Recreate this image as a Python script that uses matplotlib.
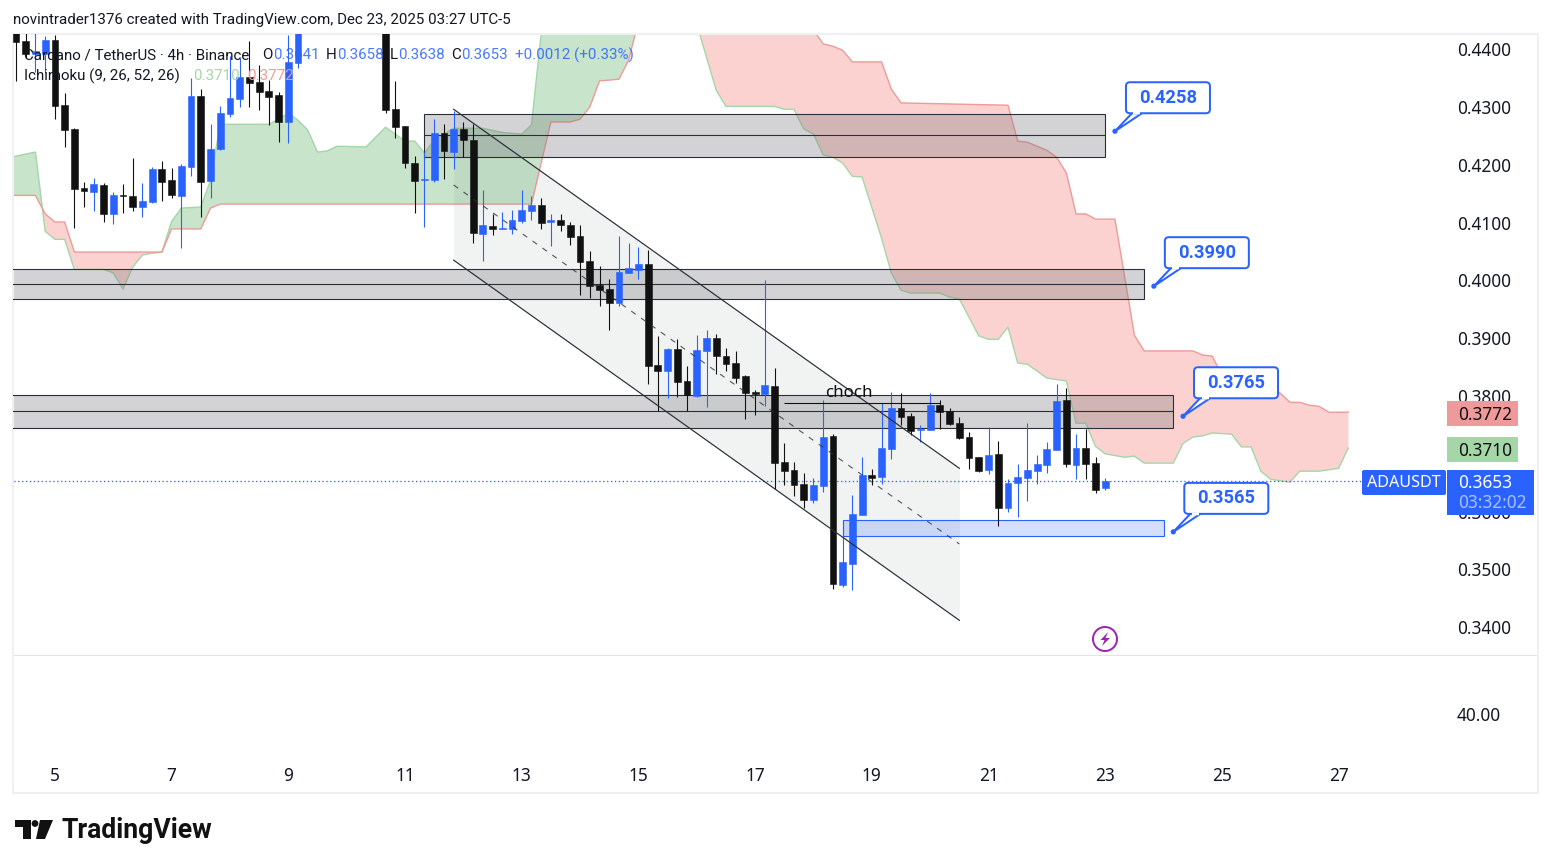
import numpy as np
import matplotlib
matplotlib.use("Agg")
from matplotlib import pyplot as plt
from matplotlib.patches import Rectangle, FancyBboxPatch, Circle, Polygon

plt.rcParams["font.family"] = ["Noto Sans", "DejaVu Sans"]

W, H = 1551, 868
TICK = 1e-4  # ADAUSDT price step, the lists below are in ticks
nan = np.nan

# 4h candles, one per bar. Bars 30-37 are above the visible range
opens = [4433, 4414, 4391, 4391, 4416, 4303, 4262, 4160, 4153, 4165, 4115, 4147, 4146, 4127, 4135,
         4192, 4173, 4146, 4196, 4319, 4172, 4227, 4288, 4314, 4352, 4343, 4327, 4320, 4274, 4376,
         nan, nan, nan, nan, nan, nan, nan, nan,
         4436, 4296, 4267, 4203, 4173, 4173, 4255, 4222, 4262, 4243, 4080, 4094, 4089, 4089, 4102,
         4120, 4130, 4101, 4104, 4096, 4077, 4033, 3992, 3985, 3961, 4013, 4018, 4028, 3853, 3843,
         3881, 3826, 3800, 3878, 3900, 3869, 3857, 3834, 3807, 3803, 3817, 3686, 3672, 3647, 3620,
         3644, 3731, 3473, 3509, 3594, 3663, 3660, 3708, 3779, 3765, 3741, 3741, 3784, 3774, 3753,
         3729, 3694, 3672, 3699, 3606, 3649, 3658, 3670, 3680, 3706, 3793, 3680, 3710, 3684, 3641]
closes = [4412, 4391, 4397, 4416, 4301, 4260, 4158, 4154, 4167, 4115, 4147, 4146, 4127, 4137, 4192,
          4170, 4147, 4198, 4319, 4170, 4227, 4289, 4315, 4352, 4341, 4326, 4317, 4274, 4378, 4433,
          nan, nan, nan, nan, nan, nan, nan, nan,
          4295, 4265, 4203, 4172, 4175, 4255, 4224, 4262, 4243, 4082, 4095, 4089, 4090, 4104, 4122,
          4130, 4099, 4104, 4096, 4075, 4032, 3990, 3983, 3961, 4014, 4021, 4028, 3852, 3843, 3881,
          3824, 3801, 3879, 3900, 3869, 3855, 3831, 3805, 3803, 3819, 3684, 3670, 3646, 3620, 3646,
          3729, 3475, 3513, 3596, 3663, 3658, 3710, 3779, 3763, 3739, 3743, 3784, 3772, 3751, 3727,
          3692, 3670, 3698, 3606, 3649, 3660, 3672, 3682, 3708, 3791, 3682, 3710, 3682, 3637, 3653]
highs = [4450, 4433, 4433, 4423, 4424, 4324, 4263, 4170, 4177, 4168, 4153, 4167, 4211, 4168, 4196,
         4206, 4194, 4201, 4350, 4331, 4270, 4301, 4388, 4384, 4414, 4372, 4346, 4326, 4424, 4442,
         nan, nan, nan, nan, nan, nan, nan, nan,
         4442, 4345, 4267, 4215, 4222, 4279, 4270, 4293, 4274, 4270, 4156, 4115, 4118, 4122, 4156,
         4146, 4142, 4115, 4115, 4101, 4096, 4051, 4025, 4002, 4077, 4064, 4057, 4052, 3904, 3883,
         3898, 3852, 3905, 3914, 3907, 3883, 3878, 3836, 3810, 4000, 3848, 3718, 3686, 3667, 3658,
         3793, 3734, 3585, 3628, 3694, 3673, 3788, 3807, 3805, 3770, 3750, 3805, 3793, 3779, 3763,
         3737, 3694, 3746, 3722, 3656, 3682, 3753, 3698, 3720, 3820, 3814, 3734, 3743, 3694, 3658]
lows = [4345, 4384, 4360, 4359, 4279, 4231, 4090, 4127, 4120, 4101, 4097, 4116, 4120, 4109, 4134,
        4137, 4142, 4056, 4180, 4109, 4142, 4225, 4282, 4300, 4300, 4295, 4269, 4239, 4237, 4367,
        nan, nan, nan, nan, nan, nan, nan, nan,
        4289, 4246, 4194, 4116, 4092, 4170, 4175, 4192, 4213, 4064, 4033, 4078, 4089, 4080, 4099,
        4104, 4089, 4059, 4085, 4061, 3974, 3969, 3955, 3914, 3955, 4013, 4002, 3821, 3774, 3796,
        3798, 3774, 3798, 3781, 3838, 3843, 3822, 3760, 3767, 3782, 3639, 3646, 3627, 3606, 3615,
        3634, 3466, 3469, 3464, 3594, 3646, 3648, 3691, 3750, 3732, 3720, 3741, 3743, 3750, 3725,
        3673, 3668, 3665, 3575, 3599, 3590, 3618, 3648, 3667, 3706, 3677, 3656, 3656, 3632, 3638]

# Ichimoku spans, vertices by bar number (above the pane they are rough guesses)
span_a_bars = [-1, 0, 2, 3, 4, 5, 6, 9, 10, 11, 12, 13, 14, 15, 16, 17, 19, 20, 21, 26, 27, 28, 29, 30,
               31, 32, 33, 36, 38, 39, 40, 41, 42, 43, 45, 48, 50, 52, 53, 54, 55, 62, 70, 72, 73, 78,
               79, 80, 81, 82, 83, 84, 85, 86, 87, 89, 90, 91, 92, 95, 96, 97, 98, 99, 100, 101, 102,
               103, 104, 106, 108, 109, 110, 111, 112, 114, 115, 116, 119, 120, 121, 122, 123, 125,
               126, 127, 128, 129, 131, 132, 134, 136, 137]
span_a = [4211, 4215, 4222, 4085, 4071, 4071, 4019, 4019, 4013, 3985, 4023, 4044, 4047, 4049, 4102,
          4125, 4127, 4173, 4270, 4270, 4279, 4289, 4277, 4260, 4222, 4224, 4232, 4231, 4265, 4253,
          4241, 4241, 4220, 4243, 4263, 4263, 4256, 4253, 4269, 4426, 4470, 4520, 4443, 4329, 4301,
          4301, 4296, 4296, 4262, 4253, 4217, 4213, 4203, 4180, 4179, 4073, 4013, 3983, 3978, 3978,
          3971, 3968, 3936, 3904, 3898, 3898, 3919, 3857, 3855, 3831, 3826, 3753, 3753, 3713, 3700,
          3694, 3696, 3684, 3684, 3718, 3729, 3731, 3736, 3734, 3712, 3712, 3670, 3656, 3651, 3670,
          3670, 3675, 3710]
span_b_bars = [-1, 2, 3, 4, 5, 6, 15, 16, 19, 20, 21, 53, 54, 55, 57, 58, 59, 60, 62, 63, 64, 66, 80,
               82, 83, 84, 85, 86, 89, 90, 91, 102, 103, 104, 106, 107, 108, 109, 110, 111, 113, 114,
               115, 116, 121, 122, 123, 124, 127, 130, 131, 132, 133, 134, 135, 137]
span_b = [4147, 4147, 4115, 4101, 4101, 4049, 4049, 4089, 4089, 4125, 4132, 4132, 4203, 4274, 4274,
          4279, 4300, 4345, 4348, 4381, 4448, 4520, 4500, 4433, 4409, 4405, 4398, 4378, 4378, 4331,
          4307, 4303, 4241, 4239, 4225, 4213, 4186, 4115, 4115, 4106, 4106, 4006, 3905, 3878, 3878,
          3871, 3869, 3836, 3827, 3805, 3789, 3789, 3784, 3782, 3772, 3772]

# zones: top, middle, bottom price and bar range
zone_tops = [4288, 4019, 3801]
zone_mids = [4251, 3993, 3774]
zone_bottoms = [4213, 3968, 3744]
zone_starts = [42, -2, -2]
zone_ends = [112, 116, 119]

# falling channel
channel_bars = [45, 97]
channel_upper = [4296, 3675]
channel_mid = [4165, 3544]
channel_lower = [4035, 3412]

target_zone = (85, 118, 3558, 3585)
choch_bars = [79, 95]
choch_price = 3788

callout_bars = [113, 117, 120, 119]
callout_prices = [4258, 3990, 3765, 3565]

price_ticks = [0.34, 0.35, 0.36, 0.37, 0.38, 0.39, 0.40, 0.41, 0.42, 0.43, 0.44]
day_bars = [4, 16, 28, 40, 52, 64, 76, 88, 100, 112, 124, 136]
day_labels = ["5", "7", "9", "11", "13", "15", "17", "19", "21", "23", "25", "27"]

BLUE = "#2962ff"
DARK = "#111111"
TEXT = "#131722"
RED_LINE, RED_FILL = "#ef9a9a", "#fcd2d0"
GREEN_LINE, GREEN_FILL = "#a5d6a7", "#c8e4ca"
LINE = "#2a2e39"
BORDER = "#f0f0f3"
PX = 0.72  # one pixel in points at dpi 100
UI_FONT = ["Roboto", "DejaVu Sans"]

fig = plt.figure(figsize=(W / 100, H / 100), dpi=100, facecolor="white")


def pane(top, bottom):
    return fig.add_axes([13 / W, 1 - bottom / H, (1538 - 13) / W, (bottom - top) / H])


ax = pane(34, 656)
ax2 = pane(656, 793)
ax.set_xlim(-0.31, 156.5)
ax.set_ylim(0.33503, 0.44262)
ax2.set_xlim(ax.get_xlim())
ax2.set_ylim(0, 69.3)

# cloud
a_x, a_y = np.array(span_a_bars, float), np.array(span_a) * TICK
b_x, b_y = np.array(span_b_bars, float), np.array(span_b) * TICK
grid = np.union1d(a_x, b_x)
a_on_grid = np.interp(grid, a_x, a_y)
b_on_grid = np.interp(grid, b_x, b_y)
ax.fill_between(grid, a_on_grid, b_on_grid, where=a_on_grid >= b_on_grid, interpolate=True,
                color=GREEN_FILL, lw=0, zorder=1)
ax.fill_between(grid, a_on_grid, b_on_grid, where=a_on_grid <= b_on_grid, interpolate=True,
                color=RED_FILL, lw=0, zorder=1)
ax.plot(a_x, a_y, color=GREEN_LINE, lw=1.4 * PX, zorder=1.5)
ax.plot(b_x, b_y, color=RED_LINE, lw=1.4 * PX, zorder=1.5)

# channel
ch_up = np.array(channel_upper) * TICK
ch_mid = np.array(channel_mid) * TICK
ch_low = np.array(channel_lower) * TICK
ax.fill_between(channel_bars, ch_up, ch_low, color="#6f8a7c", alpha=0.1, lw=0, zorder=2)

# zones
for top, mid, bot, start, end in zip(zone_tops, zone_mids, zone_bottoms, zone_starts, zone_ends):
    ax.add_patch(Rectangle((start, bot * TICK), end - start, (top - bot) * TICK,
                           facecolor="#78787e", alpha=0.32, lw=0, zorder=2.5))
    ax.add_patch(Rectangle((start, bot * TICK), end - start, (top - bot) * TICK,
                           fill=False, edgecolor=LINE, lw=1.1 * PX, zorder=2.6))
    ax.hlines(mid * TICK, start, end, color=LINE, lw=1.1 * PX, zorder=2.6)

t_start, t_end, t_low, t_high = target_zone
ax.add_patch(Rectangle((t_start, t_low * TICK), t_end - t_start, (t_high - t_low) * TICK,
                       facecolor=BLUE, alpha=0.2, lw=0, zorder=2.5))
ax.add_patch(Rectangle((t_start, t_low * TICK), t_end - t_start, (t_high - t_low) * TICK,
                       fill=False, edgecolor=BLUE, lw=1.1 * PX, zorder=2.6))

# candles
o, h, l, c = [np.array(v, float) * TICK for v in (opens, highs, lows, closes)]
bars = np.arange(len(o))
colors = [BLUE if up else DARK for up in c >= o]
ax.vlines(bars, l, h, colors=colors, lw=1.1 * PX, zorder=4)
ax.bar(bars, np.abs(c - o), bottom=np.minimum(o, c), width=0.7, color=colors,
       edgecolor=colors, lw=0.4, zorder=4.5)

ax.plot(channel_bars, ch_up, color=LINE, lw=1.2 * PX, zorder=5)
ax.plot(channel_bars, ch_low, color=LINE, lw=1.2 * PX, zorder=5)
ax.plot(channel_bars, ch_mid, color=LINE, lw=1.1 * PX, ls=(0, (5, 6)), alpha=0.8, zorder=5)
ax.hlines(choch_price * TICK, choch_bars[0], choch_bars[1], color=DARK, lw=1.1 * PX, zorder=5)
ax.hlines(c[-1], -1, 138.4, color=BLUE, lw=1.3 * PX, ls=(0, (1, 2)), zorder=3)

# scales
for a in (ax, ax2):
    a.yaxis.tick_right()
    a.tick_params(axis="both", length=0)
    for name in a.spines:
        a.spines[name].set_color(BORDER)
        a.spines[name].set_linewidth(1.5)
ax.set_yticks(price_ticks)
ax.set_yticklabels([f"{p:.4f}" for p in price_ticks])
ax.tick_params(axis="y", pad=-58.5, labelsize=12.4, labelcolor=TEXT)
ax.set_xticks([])
ax.spines["bottom"].set_color("#dcdfea")
ax.spines["bottom"].set_linewidth(1.2)
ax2.spines["top"].set_visible(False)
ax2.set_yticks([40])
ax2.set_yticklabels(["40.00"])
ax2.tick_params(axis="y", pad=-58.5, labelsize=12.4, labelcolor=TEXT)
ax2.set_xticks(day_bars)
ax2.set_xticklabels(day_labels)
ax2.tick_params(axis="x", pad=-19, labelsize=12.4, labelcolor=TEXT)

# pixel overlay for texts, price tags and callouts
ov = fig.add_axes([0, 0, 1, 1], zorder=10)
ov.set_xlim(0, W)
ov.set_ylim(H, 0)
ov.axis("off")


def label(x, y, s, color=TEXT, size=10.9, ha="left", weight="normal", alpha=1, family=UI_FONT):
    ov.text(x, y + 1, s, color=color, fontsize=size, ha=ha, va="center", fontweight=weight,
            alpha=alpha, family=family)


def tag(x0, y0, x1, y1, color):
    ov.add_patch(Rectangle((x0, y0), x1 - x0, y1 - y0, facecolor=color, lw=0))


NUM_FONT = ["Noto Sans", "DejaVu Sans"]

label(13, 19, "novintrader1376 created with TradingView.com, Dec 23, 2025 03:27 UTC-5")

label(24, 54, "Cardano / TetherUS · 4h · Binance")
for x, vx, name, value in zip([262, 326, 390, 451], [273, 337, 398, 461], "OHLC", [o[-1], h[-1], l[-1], c[-1]]):
    label(x, 54, name)
    label(vx, 54, f"{value:.4f}", color=BLUE, alpha=0.85)
change = c[-1] - o[-1]
label(515, 54, f"+{change:.4f} (+{change / o[-1] * 100:.2f}%)", color=BLUE, alpha=0.85)
label(24, 75, "Ichimoku (9, 26, 52, 26)")
label(193, 75, f"{span_a[-1] * TICK:.4f}", color=GREEN_LINE)
label(247, 75, f"{span_b[-1] * TICK:.4f}", color=RED_LINE)

label(849, 392, "choch", size=12.2, ha="center", color=DARK, family=NUM_FONT)

# price tags
tag(1447, 401, 1518, 426, RED_LINE)
label(1458, 413.5, f"{span_b[-1] * TICK:.4f}", size=12.4, color=DARK, family=NUM_FONT)
tag(1447, 437, 1518, 462, GREEN_LINE)
label(1458, 449.5, f"{span_a[-1] * TICK:.4f}", size=12.4, color=DARK, family=NUM_FONT)
ov.add_patch(FancyBboxPatch((1362, 470), 84, 25, boxstyle="round,pad=0,rounding_size=2",
                            facecolor=BLUE, lw=0))
label(1404, 482, "ADAUSDT", size=11.6, color="white", ha="center", family=NUM_FONT)
tag(1447, 470, 1534, 515, BLUE)
label(1458, 482, f"{c[-1]:.4f}", size=12.4, color="white", family=NUM_FONT)
label(1458, 502, "03:32:02", size=12.4, color="white", alpha=0.6, family=NUM_FONT)

# callouts, anchored on the chart through its own scales
for bar, price in zip(callout_bars, callout_prices):
    px_x, px_y = ax.transData.transform((bar, price * TICK))
    px_y = H - px_y
    x0, y0 = px_x + 11, px_y - 49
    y1 = y0 + 31
    ov.add_patch(Polygon([(x0 + 6, y1), (px_x, px_y), (x0 + 16, y1)], closed=False,
                         facecolor="white", edgecolor=BLUE, lw=2 * PX))
    ov.add_patch(FancyBboxPatch((x0, y0), 84, 31, boxstyle="round,pad=0,rounding_size=4",
                                facecolor="white", edgecolor=BLUE, lw=2 * PX))
    ov.plot([x0 + 7.5, x0 + 14.5], [y1, y1], color="white", lw=2.5 * PX, solid_capstyle="butt")
    ov.add_patch(Circle((px_x, px_y), 2.6, color=BLUE, lw=0))
    label(x0 + 42, y0 + 14.5, f"{price * TICK:.4f}", color=BLUE, size=13.2, ha="center", weight="bold")

# lightning mark
PURPLE = "#9c27b0"
ov.add_patch(Circle((1105, 639), 12, facecolor="white", edgecolor=PURPLE, lw=2 * PX))
ov.add_patch(Polygon([(1108, 632), (1100.5, 640), (1104.5, 640), (1102, 646), (1110, 638), (1105.5, 638)],
                     facecolor=PURPLE, lw=0))

# TradingView logo
ov.add_patch(Polygon([(15, 820), (31, 820), (31, 839), (23, 839), (23, 827), (15, 827)], facecolor=DARK, lw=0))
ov.add_patch(Circle((35, 823.5), 3.4, color=DARK, lw=0))
ov.add_patch(Polygon([(40, 820), (53, 820), (45, 839), (36, 839)], facecolor=DARK, lw=0))
ov.text(61, 831, "TradingView", color=DARK, fontsize=19.2, va="center", fontweight="bold",
        family=UI_FONT)

fig.savefig("out.png", dpi=100)
